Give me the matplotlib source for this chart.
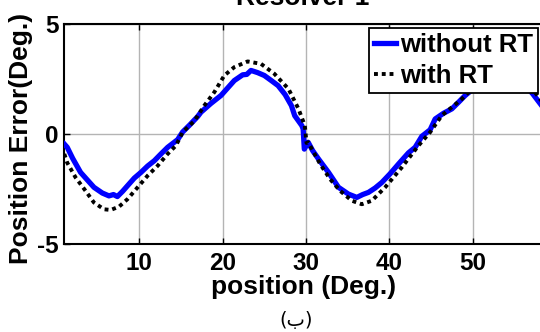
import matplotlib
matplotlib.use("Agg")
import matplotlib.pyplot as plt

plt.rcParams["axes.unicode_minus"] = False

# ---- data ----
x_without = [1, 1.35, 2, 2.95, 3.8, 4.56, 5.56, 6.36, 6.9, 7.37, 8, 8.58, 9.4, 10.2, 11, 11.8,
             12.6, 13.4, 14.6, 15.2, 16, 17.0, 17.4, 18.6, 19.8, 20.6, 21.4, 22.4, 22.9, 23.4,
             24.2, 25.0, 25.8, 26.65, 27.5, 28.25, 28.65, 29.5, 29.66, 29.8, 30.26, 30.8, 31.5,
             32.7, 33.9, 35.1, 36.1, 36.8, 37.5, 38.3, 39.1, 40.1, 41.1, 42.3, 43.1, 43.9, 44.9,
             45.5, 46.5, 47.5, 48.3, 49.1, 49.7, 50.6, 51.5, 52.5, 53.4, 54.3, 55.2, 56.2, 57.2,
             58.4, 59.3, 60]
y_without = [-0.45, -0.6, -1.1, -1.74, -2.1, -2.42, -2.68, -2.81, -2.75, -2.84, -2.6, -2.35, -2.0,
             -1.74, -1.45, -1.21, -0.9, -0.6, -0.25, 0.1, 0.4, 0.8, 1.0, 1.4, 1.76, 2.1, 2.44, 2.7,
             2.72, 2.9, 2.8, 2.67, 2.45, 2.21, 1.8, 1.3, 0.84, 0.39, 0.24, -0.68, -0.37, -0.75,
             -1.13, -1.74, -2.42, -2.73, -2.88, -2.75, -2.65, -2.45, -2.2, -1.8, -1.36, -0.85,
             -0.6, -0.1, 0.2, 0.69, 0.95, 1.15, 1.45, 1.76, 1.95, 2.3, 2.6, 2.8, 2.9, 2.8, 2.6,
             2.25, 1.84, 1.24, 0.5, 0.1]

x_with = [1, 1.35, 2.35, 3.55, 4.55, 5.76, 6.57, 7.57, 8.58, 9.78, 11.0, 12.2, 13.4, 14.4, 15.2,
          16.6, 17.8, 19.0, 20.2, 21.4, 23.0, 24.6, 26.2, 27.9, 29.1, 29.86, 30.06, 30.26, 31.7,
          32.9, 34.1, 35.5, 36.7, 37.9, 39.5, 41.5, 43.5, 44.9, 46.3, 48.7, 50, 51.5, 53.0,
          54.6, 56.2, 57.9, 59.1, 60]
y_with = [-0.9, -1.3, -1.97, -2.58, -3.11, -3.42, -3.45, -3.3, -2.96, -2.43, -1.89, -1.44, -0.9,
          -0.52, 0.09, 0.6, 1.3, 1.91, 2.67, 3.05, 3.31, 3.2, 2.75, 2.06, 1.15, 0.39, -0.4,
          -0.37, -1.36, -2.05, -2.58, -3.03, -3.19, -3.03, -2.42, -1.51, -0.52, 0.09, 0.85,
          1.6, 2.1, 2.8, 3.2, 3.1, 2.5, 1.7, 1.0, 0.3]

x_ticks = [10, 20, 30, 40, 50]
y_ticks = [-5, 0, 5]
series_labels = ["without RT", "with RT"]
title_text = "Resolver 1"
xlabel_text = "position (Deg.)"
ylabel_text = "Position Error(Deg.)"
caption_text = "(ب)"

# ---- figure ----
W, H = 540, 332
fig = plt.figure(figsize=(W / 100, H / 100), dpi=100)
fig.patch.set_facecolor("white")

ax_l, ax_r, ax_t, ax_b = 64.3, 556.0, 24.3, 244.0
ax = fig.add_axes([ax_l / W, 1 - ax_b / H, (ax_r - ax_l) / W, (ax_b - ax_t) / H])

font = "Liberation Sans"
ax.plot(x_without, y_without, color="#0000ff", lw=3.8, label=series_labels[0],
        solid_joinstyle="round", zorder=3)
ax.plot(x_with, y_with, color="black", lw=2.8, linestyle=(0, (1, 1)),
        dash_capstyle="butt", label=series_labels[1], zorder=4)

ax.set_xlim(1, 60)
ax.set_ylim(-5, 5)
ax.set_xticks(x_ticks)
ax.set_yticks(y_ticks)
ax.grid(True, color="#b4b4b4", lw=1.0, zorder=0)
ax.tick_params(direction="in", length=4, width=1, top=True, right=True,
               labelsize=17.5, pad=6)
ax.tick_params(axis="y", pad=4)
for lab in ax.get_xticklabels() + ax.get_yticklabels():
    lab.set_fontfamily(font)
    lab.set_fontweight("bold")
for s in ax.spines.values():
    s.set_linewidth(1.5)
    s.set_color("black")

leg = ax.legend(loc="upper right", bbox_to_anchor=(538 / W, 1 - 28 / H),
                bbox_transform=fig.transFigure, fancybox=False, framealpha=1,
                edgecolor="black", handlelength=0.85, handletextpad=0.15,
                borderpad=0.2, labelspacing=0.25, borderaxespad=0,
                prop={"family": font, "weight": "bold", "size": 18.5})
leg.get_frame().set_linewidth(1.3)

fig.text(303 / W, 1 - 5 / H, title_text, ha="center", va="baseline",
         fontfamily=font, fontweight="bold", fontsize=19)
fig.text(304 / W, 1 - 294 / H, xlabel_text, ha="center", va="baseline",
         fontfamily=font, fontweight="bold", fontsize=19)
fig.text(21 / W, 1 - 138.5 / H, ylabel_text, ha="center", va="center", rotation=90,
         fontfamily=font, fontweight="bold", fontsize=19)
fig.text(296 / W, 1 - 320.5 / H, caption_text, ha="center", va="center",
         fontfamily=["DejaVu Sans"], fontsize=14)

fig.savefig("out.png", dpi=100)
